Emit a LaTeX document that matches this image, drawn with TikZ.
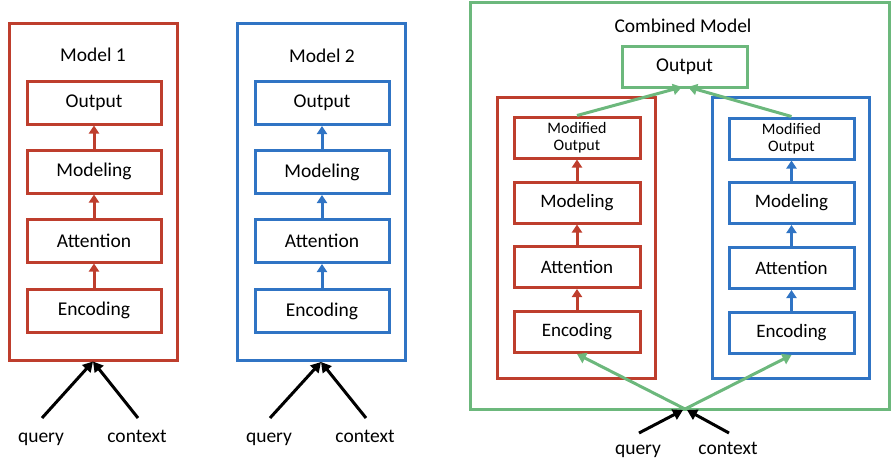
\documentclass[tikz,border=0pt]{standalone}
\usepackage{fontspec}
\setmainfont{Carlito}
\usetikzlibrary{arrows.meta}
\definecolor{mred}{RGB}{190,62,45}
\definecolor{mblue}{RGB}{48,116,196}
\definecolor{mgreen}{RGB}{108,184,124}
\tikzset{
  big/.style={font=\fontsize{19.5}{22}\selectfont},
  outerbox/.style={draw, line width=3pt, inner sep=0pt},
  stepbox/.style={line width=3pt, inner sep=0pt, big, align=center, text=black},
  redarr/.style={mred, line width=3pt, -{Triangle[length=8pt,width=10pt]}},
  bluearr/.style={mblue, line width=3pt, -{Triangle[length=8pt,width=10pt]}},
  greenarr/.style={mgreen, line width=3pt, -{Triangle[length=9pt,width=11pt]}},
  blackarr/.style={black, line width=3pt, -{Triangle[length=10pt,width=11pt]}},
  lbl/.style={big, inner sep=1pt},
  wordlbl/.style={big, inner sep=0pt, anchor=base},
}
\begin{document}
\begin{tikzpicture}[x=1pt,y=-1pt]
\useasboundingbox (0,0) rectangle (891,463);

% ---------- Model 1 ----------
\node[outerbox, draw=mred, minimum width=168, minimum height=337] (m1) at (93,191.5) {};
\node[lbl] (t1) at (93,55) {Model 1};
\node[stepbox, draw=mred, minimum width=134, minimum height=43] (o1) at (94,102.5) {Output};
\node[stepbox, draw=mred, minimum width=134, minimum height=43] (md1) at (94,171.5) {Modeling};
\node[stepbox, draw=mred, minimum width=134, minimum height=43] (a1) at (94,240.5) {Attention};
\node[stepbox, draw=mred, minimum width=134, minimum height=43] (e1) at (94,310.5) {Encoding};
\draw[redarr] (e1) -- (a1);
\draw[redarr] (a1) -- (md1);
\draw[redarr] (md1) -- (o1);
\node[wordlbl] (q1) at (41,442) {query};
\node[wordlbl] (c1) at (137,442) {context};
\coordinate (q1s) at (42,418);
\coordinate (c1s) at (138,418);
\draw[blackarr] (q1s) -- (m1.south);
\draw[blackarr] (c1s) -- (m1.south);

% ---------- Model 2 ----------
\node[outerbox, draw=mblue, minimum width=168, minimum height=337] (m2) at (321,192) {};
\node[lbl] (t2) at (322,56) {Model 2};
\node[stepbox, draw=mblue, minimum width=134, minimum height=43] (o2) at (322,103) {Output};
\node[stepbox, draw=mblue, minimum width=134, minimum height=43] (md2) at (322,172) {Modeling};
\node[stepbox, draw=mblue, minimum width=134, minimum height=43] (a2) at (322,241) {Attention};
\node[stepbox, draw=mblue, minimum width=134, minimum height=43] (e2) at (322,311) {Encoding};
\draw[bluearr] (e2) -- (a2);
\draw[bluearr] (a2) -- (md2);
\draw[bluearr] (md2) -- (o2);
\node[wordlbl] (q2) at (269,442) {query};
\node[wordlbl] (c2) at (365,442) {context};
\coordinate (q2s) at (270,418);
\coordinate (c2s) at (366,418);
\draw[blackarr] (q2s) -- (m2.south);
\draw[blackarr] (c2s) -- (m2.south);

% ---------- Combined model ----------
\node[outerbox, draw=mgreen, minimum width=419, minimum height=407] (cm) at (679.5,205.5) {};
\node[lbl] (tc) at (683,26) {Combined Model};
\node[stepbox, draw=mgreen, minimum width=125, minimum height=41] (oc) at (684.5,66.5) {Output};

\node[outerbox, draw=mred, minimum width=158, minimum height=281] (rm) at (576,237.5) {};
\node[stepbox, draw=mred, minimum width=126, minimum height=41, font=\fontsize{16}{19}\selectfont] (rmo) at (577,137.5) {Modified\\[-2pt]Output};
\node[stepbox, draw=mred, minimum width=126, minimum height=41, font=\fontsize{19}{22}\selectfont] (rmd) at (577,202.5) {Modeling};
\node[stepbox, draw=mred, minimum width=126, minimum height=41, font=\fontsize{19}{22}\selectfont] (ra) at (577,267) {Attention};
\node[stepbox, draw=mred, minimum width=126, minimum height=41, font=\fontsize{19}{22}\selectfont] (re) at (577,332) {Encoding};
\draw[redarr] (re) -- (ra);
\draw[redarr] (ra) -- (rmd);
\draw[redarr] (rmd) -- (rmo);

\node[outerbox, draw=mblue, minimum width=157, minimum height=281] (bm) at (790.5,237.5) {};
\node[stepbox, draw=mblue, minimum width=125, minimum height=41, font=\fontsize{16}{19}\selectfont] (bmo) at (791.5,138.5) {Modified\\[-2pt]Output};
\node[stepbox, draw=mblue, minimum width=125, minimum height=41, font=\fontsize{19}{22}\selectfont] (bmd) at (791.5,203) {Modeling};
\node[stepbox, draw=mblue, minimum width=125, minimum height=41, font=\fontsize{19}{22}\selectfont] (ba) at (791.5,268) {Attention};
\node[stepbox, draw=mblue, minimum width=125, minimum height=41, font=\fontsize{19}{22}\selectfont] (be) at (791.5,333) {Encoding};
\draw[bluearr] (be) -- (ba);
\draw[bluearr] (ba) -- (bmd);
\draw[bluearr] (bmd) -- (bmo);

\coordinate (ocl) at (682,87);
\coordinate (ocr) at (688,87);
\draw[greenarr] (rmo.north) -- (ocl);
\draw[greenarr] (bmo.north) -- (ocr);

\coordinate (split) at (685,409);
\draw[greenarr] (split) -- (re.south);
\draw[greenarr] (split) -- (be.south);

\node[wordlbl] (q3) at (638,454) {query};
\node[wordlbl] (c3) at (728,454) {context};
\coordinate (q3s) at (639,433);
\coordinate (c3s) at (729,433);
\coordinate (q3e) at (683,410);
\coordinate (c3e) at (687,410);
\draw[blackarr] (q3s) -- (q3e);
\draw[blackarr] (c3s) -- (c3e);
\end{tikzpicture}
\end{document}
